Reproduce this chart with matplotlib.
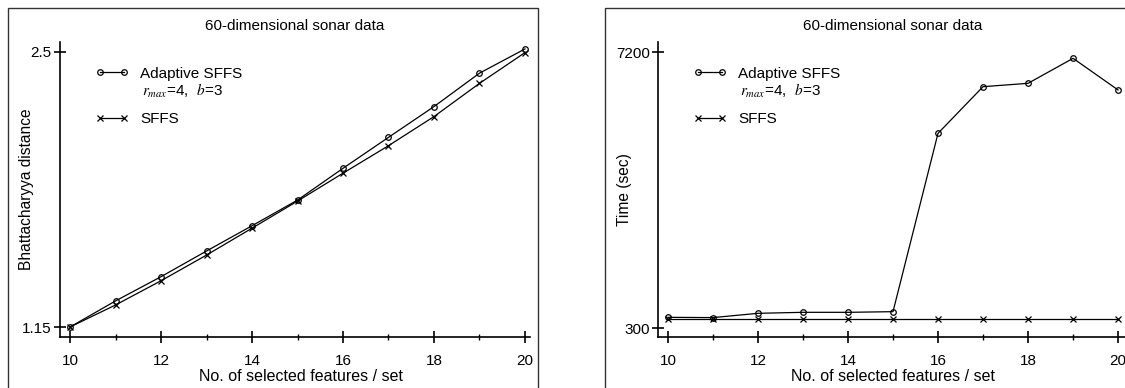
import matplotlib
matplotlib.use('Agg')
import matplotlib.pyplot as plt
from matplotlib.lines import Line2D
from matplotlib.patches import Rectangle

plt.rcParams['font.family'] = ['Liberation Sans', 'DejaVu Sans']
plt.rcParams['mathtext.fontset'] = 'stix'

n_features = [10, 11, 12, 13, 14, 15, 16, 17, 18, 19, 20]

# Bhattacharyya distance
bhat_adaptive = [1.15, 1.278, 1.397, 1.523, 1.647, 1.773, 1.929, 2.081, 2.232, 2.396, 2.515]
bhat_sffs = [1.15, 1.258, 1.377, 1.503, 1.635, 1.768, 1.905, 2.040, 2.183, 2.346, 2.497]

# computation time (sec)
time_adaptive = [567, 560, 667, 692, 692, 708, 5167, 6333, 6417, 7042, 6250]
time_sffs = [520, 520, 520, 520, 520, 520, 520, 520, 520, 520, 520]

title = '60-dimensional sonar data'
xlab = 'No. of selected features / set'
lbl_adaptive = 'Adaptive SFFS'
lbl_sub = r'$r_{max}$=4,  $b$=3'
lbl_sffs = 'SFFS'

W, H = 1125, 388
fig = plt.figure(figsize=(W / 100, H / 100), dpi=100)

# outer panel frames, as in the scanned figure
for x0, x1 in [(8, 538), (605, 1140)]:
    fig.patches.append(Rectangle((x0 / W, -0.1), (x1 - x0) / W, (H - 8) / H + 0.1,
                                 transform=fig.transFigure, fill=False,
                                 edgecolor='#333333', linewidth=1.0))


def setup(ax, ylim, yticks, yticklabels, ylabel, xlim, xlab_x):
    ax.set_xlim(*xlim)
    ax.set_ylim(*ylim)
    for s in ['top', 'right']:
        ax.spines[s].set_visible(False)
    for s in ['left', 'bottom']:
        ax.spines[s].set_linewidth(1.2)
    ax.set_xticks([10, 12, 14, 16, 18, 20])
    ax.set_xticks([11, 13, 15, 17, 19], minor=True)
    ax.set_yticks(yticks)
    ax.set_yticklabels(yticklabels)
    ax.tick_params(which='major', direction='inout', length=8, width=1.2, labelsize=11)
    ax.tick_params(axis='x', which='major', pad=8)
    ax.tick_params(axis='y', which='major', pad=2)
    ax.tick_params(which='minor', direction='inout', length=5, width=1.0)
    ax.set_xlabel(xlab, fontsize=11.5)
    ax.xaxis.set_label_coords(xlab_x, -0.108)
    ax.set_ylabel(ylabel, fontsize=11.2)
    ax.yaxis.set_label_coords(-0.055, 0.5)
    ax.set_title(title, fontsize=11, pad=9)
    handles = [Line2D([], [], color='black', lw=0.9, marker='o', ms=4, mfc='none', mew=0.9),
               Line2D([], [], color='black', lw=0.9, marker='x', ms=4.5, mew=0.9)]
    ax.legend(handles, [lbl_adaptive, lbl_sffs], loc='upper left',
              bbox_to_anchor=(0.0745, 0.916), frameon=False, numpoints=2,
              handlelength=2.2, handletextpad=0.75, labelspacing=2.05,
              borderpad=0, borderaxespad=0, fontsize=11)
    ax.text(0.1745, 0.835, lbl_sub, transform=ax.transAxes, fontsize=11,
            va='center', ha='left')


ax1 = fig.add_axes([60 / W, 51 / H, 470 / W, 295 / H])
ax1.plot(n_features, bhat_adaptive, color='black', lw=0.9, marker='o', ms=4, mfc='none', mew=0.9)
ax1.plot(n_features, bhat_sffs, color='black', lw=0.9, marker='x', ms=4.5, mew=0.9)
setup(ax1, (1.101, 2.549), [1.15, 2.5], ['1.15', '2.5'], 'Bhattacharyya distance',
      (9.78, 20.11), 0.513)

ax2 = fig.add_axes([658 / W, 51 / H, 470 / W, 295 / H])
ax2.plot(n_features, time_adaptive, color='black', lw=0.9, marker='o', ms=4, mfc='none', mew=0.9)
ax2.plot(n_features, time_sffs, color='black', lw=0.9, marker='x', ms=4.5, mew=0.9)
setup(ax2, (75, 7450), [300, 7200], ['300', '7200'], 'Time (sec)', (9.78, 20.22), 0.5)

fig.savefig('out.png', dpi=100)
